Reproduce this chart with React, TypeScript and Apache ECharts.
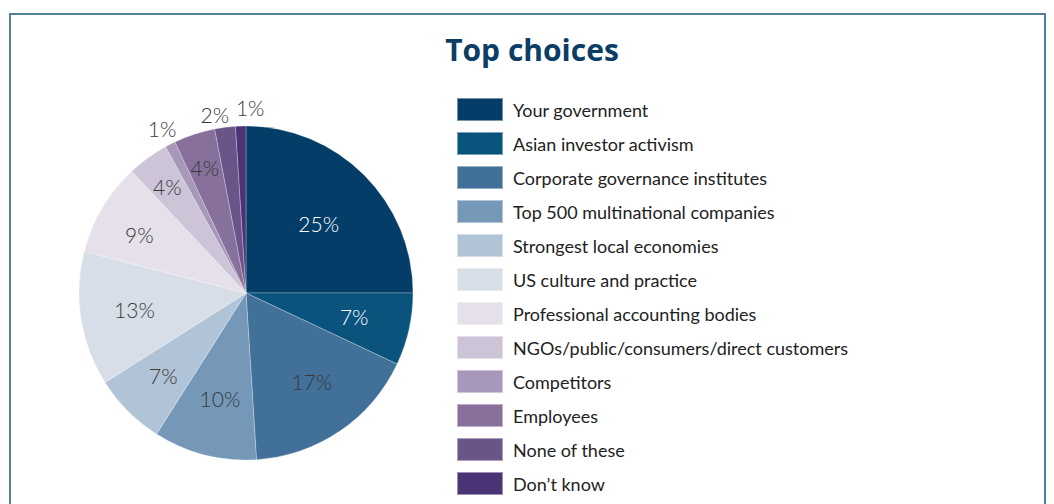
import React, { useEffect, useRef } from "react";
import * as echarts from "echarts";

const categories = [
  "Your government",
  "Asian investor activism",
  "Corporate governance institutes",
  "Top 500 multinational companies",
  "Strongest local economies",
  "US culture and practice",
  "Professional accounting bodies",
  "NGOs/public/consumers/direct customers",
  "Competitors",
  "Employees",
  "None of these",
  "Don’t know",
];
const values = [25, 7, 17, 10, 7, 13, 9, 4, 1, 4, 2, 1];
const colors = [
  "#043d68",
  "#0a537d",
  "#417098",
  "#7598b9",
  "#b0c3d7",
  "#d7dee8",
  "#e5e0ea",
  "#cdc4d8",
  "#a797b9",
  "#87709c",
  "#6a5589",
  "#4a3476",
];
const lightLabel = [true, true, false, false, false, false, false, false, false, false, false, false];
const outsideLabel = [false, false, false, false, false, false, false, false, true, false, true, true];
// small label nudges [dx, dy] (styling only)
const labelNudge: number[][] = [
  [-10, 13], [-6, -2], [0, -8], [3, -8], [0, 0], [4, -2],
  [-6, 1], [-10, -12], [0, 0], [-5, -14], [-8, 5], [10, -1],
];

const FONT = "Lato, 'Noto Sans', sans-serif";

export default function App() {
  const ref = useRef<HTMLDivElement>(null);
  useEffect(() => {
    if (!ref.current) return;
    const chart = echarts.init(ref.current, undefined, { renderer: "svg" });
    const center = [246, 293];
    const labelStyle = (i: number) => ({
      color: lightLabel[i] ? "#ffffff" : "#383838",
      fontSize: 21,
      fontFamily: FONT,
      fontWeight: 300 as any,
      textBorderWidth: 0,
      textShadowBlur: 0,
    });
    const nudge = (params: any) => {
      const n = labelNudge[params.dataIndex] || [0, 0];
      return { dx: n[0], dy: n[1] };
    };
    chart.setOption({
      animation: false,
      title: {
        text: "Top choices",
        left: 527,
        textAlign: "center",
        top: 29,
        textStyle: {
          color: "#0b3d66",
          fontSize: 30,
          fontWeight: "bold",
          fontFamily: "'Open Sans', Lato, sans-serif",
        },
      },
      legend: {
        orient: "vertical",
        left: 456,
        top: 97,
        height: 406,
        padding: 0,
        itemWidth: 46,
        itemHeight: 23,
        itemGap: 9,
        icon: "rect",
        selectedMode: false,
        data: categories,
        textStyle: {
          fontSize: 18,
          color: "#222222",
          fontFamily: FONT,
          padding: [0, 0, 0, 5],
        },
      },
      graphic: [
        {
          type: "rect",
          shape: { x: 10, y: 14, width: 1035, height: 510 },
          style: { fill: "none", stroke: "#4f8298", lineWidth: 2 },
          silent: true,
        },
      ],
      series: [
        {
          type: "pie",
          center,
          radius: 167,
          startAngle: 90,
          clockwise: true,
          avoidLabelOverlap: false,
          label: { show: false },
          labelLine: { show: false },
          emphasis: { disabled: true },
          itemStyle: { borderColor: "rgba(255,255,255,0.45)", borderWidth: 0.6 },
          data: categories.map((name, i) => ({
            name,
            value: values[i],
            itemStyle: { color: colors[i] },
          })),
        },
        {
          type: "pie",
          center,
          radius: [0, 228],
          startAngle: 90,
          clockwise: true,
          silent: true,
          avoidLabelOverlap: false,
          labelLine: { show: false },
          labelLayout: nudge,
          emphasis: { disabled: true },
          itemStyle: { color: "rgba(0,0,0,0)" },
          data: categories.map((name, i) => ({
            name,
            value: values[i],
            itemStyle: { color: "rgba(0,0,0,0)" },
            label: {
              show: !outsideLabel[i],
              position: "inside",
              formatter: "{c}%",
              ...labelStyle(i),
            },
          })),
        },
        {
          type: "pie",
          center,
          radius: [0, 364],
          startAngle: 90,
          clockwise: true,
          silent: true,
          avoidLabelOverlap: false,
          labelLine: { show: false },
          labelLayout: nudge,
          emphasis: { disabled: true },
          itemStyle: { color: "rgba(0,0,0,0)" },
          data: categories.map((name, i) => ({
            name,
            value: values[i],
            itemStyle: { color: "rgba(0,0,0,0)" },
            label: {
              show: outsideLabel[i],
              position: "inside",
              formatter: "{c}%",
              ...labelStyle(i),
            },
          })),
        },
      ],
    });
    return () => chart.dispose();
  }, []);
  return (
    <div
      ref={ref}
      style={{ position: "fixed", left: 0, top: 0, width: 1054, height: 504, background: "#ffffff" }}
    />
  );
}
